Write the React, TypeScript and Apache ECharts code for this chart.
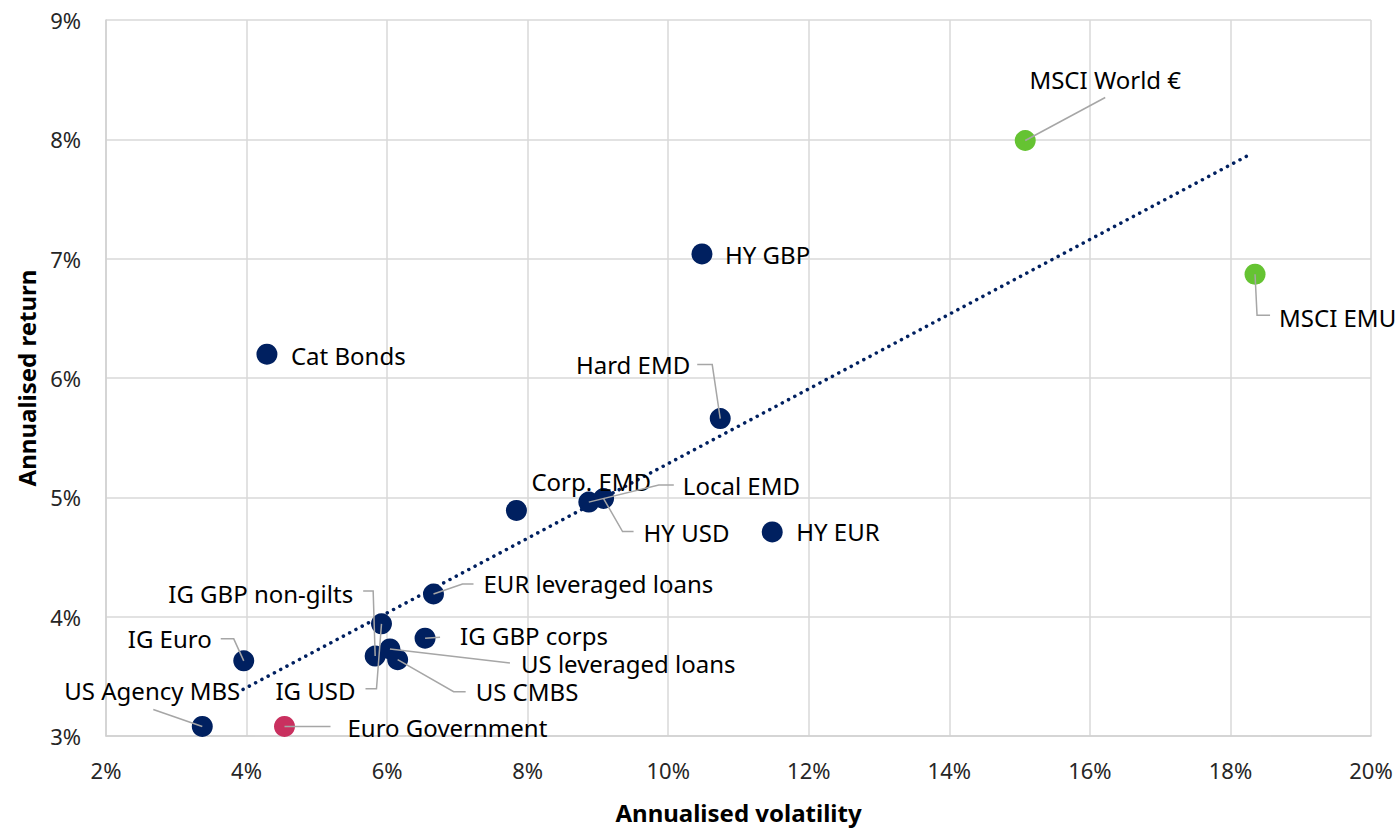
import React, { useEffect, useRef } from "react";
import * as echarts from "echarts";

// ---- Data ----
const assetNames = [
  "MSCI World €",
  "MSCI EMU",
  "HY GBP",
  "Cat Bonds",
  "Hard EMD",
  "Corp. EMD",
  "Local EMD",
  "HY USD",
  "HY EUR",
  "EUR leveraged loans",
  "IG GBP non-gilts",
  "IG USD",
  "IG GBP corps",
  "US leveraged loans",
  "US CMBS",
  "IG Euro",
  "US Agency MBS",
  "Euro Government",
];
const volatility = [15.08, 18.35, 10.48, 4.29, 10.74, 7.84, 8.87, 9.08, 11.48, 6.66, 5.83, 5.92, 6.54, 6.04, 6.15, 3.96, 3.37, 4.54];
const annualReturn = [7.99, 6.87, 7.04, 6.2, 5.66, 4.89, 4.96, 4.99, 4.71, 4.19, 3.67, 3.94, 3.82, 3.73, 3.64, 3.63, 3.08, 3.08];
const assetGroup = ["equity", "equity", "credit", "credit", "credit", "credit", "credit", "credit", "credit", "credit", "credit", "credit", "credit", "credit", "credit", "credit", "credit", "govt"];
const trendVol = [3.95, 18.3];
const trendRet = [3.39, 7.88];
const xTicks = { min: 2, max: 20, step: 2 };
const yTicks = { min: 3, max: 9, step: 1 };

// ---- Styles / layout ----
const groupColors: Record<string, string> = {
  equity: "#65C332",
  credit: "#002060",
  govt: "#C9305F",
};
// label placement relative to the point centre (pixels): [dx, dy, align]
const labelPlacement: Record<string, [number, number, string]> = {
  "MSCI World €": [80, -61, "center"],
  "MSCI EMU": [24, 43, "left"],
  "HY GBP": [23, 1, "left"],
  "Cat Bonds": [24, 1, "left"],
  "Hard EMD": [-30, -54, "right"],
  "Corp. EMD": [15, -29, "left"],
  "Local EMD": [94, -17, "left"],
  "HY USD": [40, 34, "left"],
  "HY EUR": [24, 0, "left"],
  "EUR leveraged loans": [50, -10, "left"],
  "IG GBP non-gilts": [-22, -63, "right"],
  "IG USD": [-26, 67, "right"],
  "IG GBP corps": [35, -3, "left"],
  "US leveraged loans": [131, 15, "left"],
  "US CMBS": [78, 32, "left"],
  "IG Euro": [-32, -22, "right"],
  "US Agency MBS": [-50, -36, "center"],
  "Euro Government": [63, 1, "left"],
};
// leader-line bends relative to the point centre (pixels)
const leaderBends: Record<string, number[][]> = {
  "MSCI World €": [[0, 0], [80, -43]],
  "MSCI EMU": [[0, 0], [2, 41], [15, 41]],
  "Hard EMD": [[0, 0], [-8, -54], [-23, -54]],
  "Local EMD": [[0, 0], [70, -17], [85, -17]],
  "HY USD": [[0, 0], [19, 33], [30, 33]],
  "EUR leveraged loans": [[0, 0], [29, -10], [40, -10]],
  "IG GBP non-gilts": [[0, 0], [-2, -65], [-12, -65]],
  "IG USD": [[0, 0], [-5, 65], [-16, 65]],
  "IG GBP corps": [[0, 0], [15, -1]],
  "US leveraged loans": [[0, 0], [120, 14]],
  "US CMBS": [[0, 0], [56, 32], [68, 32]],
  "IG Euro": [[0, 0], [-10, -22], [-23, -22]],
  "US Agency MBS": [[0, 0], [-49, -17]],
  "Euro Government": [[0, 0], [46, 0]],
};

const FONT = "'Noto Sans', 'Open Sans', sans-serif";

export default function App() {
  const ref = useRef<HTMLDivElement>(null);

  useEffect(() => {
    if (!ref.current) return;
    const chart = echarts.init(ref.current, undefined, { renderer: "svg" });

    const scatterData = assetNames.map((name, i) => ({
      name,
      value: [volatility[i], annualReturn[i]],
      itemStyle: { color: groupColors[assetGroup[i]], opacity: 1 },
    }));

    const leaderData = assetNames
      .map((name, i) => [volatility[i], annualReturn[i], i])
      .filter((d) => leaderBends[assetNames[d[2]]]);

    const option: any = {
      animation: false,
      textStyle: { fontFamily: FONT },
      grid: { left: 106, right: 26, top: 20, bottom: 88, containLabel: false },
      xAxis: {
        type: "value",
        min: xTicks.min,
        max: xTicks.max,
        interval: xTicks.step,
        name: "Annualised volatility",
        nameLocation: "middle",
        nameGap: 64,
        nameTextStyle: { fontFamily: FONT, fontSize: 24, fontWeight: "bold", color: "#000000" },
        axisLine: { show: true, lineStyle: { color: "#D0D0D0", width: 1.5 } },
        axisTick: { show: false },
        splitLine: { show: true, lineStyle: { color: "#D9D9D9", width: 1.5 } },
        axisLabel: { formatter: "{value}%", fontFamily: FONT, fontSize: 22, color: "#262626", margin: 23 },
      },
      yAxis: {
        type: "value",
        min: yTicks.min,
        max: yTicks.max,
        interval: yTicks.step,
        name: "Annualised return",
        nameLocation: "middle",
        nameGap: 68,
        nameTextStyle: { fontFamily: FONT, fontSize: 24, fontWeight: "bold", color: "#000000" },
        axisLine: { show: true, lineStyle: { color: "#D0D0D0", width: 1.5 } },
        axisTick: { show: false },
        splitLine: { show: true, lineStyle: { color: "#D9D9D9", width: 1.5 } },
        axisLabel: { formatter: "{value}%", fontFamily: FONT, fontSize: 22, color: "#262626", margin: 25 },
      },
      series: [
        {
          type: "line",
          data: trendVol.map((v, i) => [v, trendRet[i]]),
          symbol: "none",
          silent: true,
          lineStyle: { color: "#002060", width: 3.5, type: [0.1, 7], cap: "round" },
          z: 1,
        },
        {
          type: "scatter",
          symbol: "circle",
          symbolSize: 21,
          data: scatterData,
          z: 2,
          label: {
            show: true,
            position: "right",
            formatter: "{b}",
            fontFamily: FONT,
            fontSize: 24,
            lineHeight: 22,
            color: "#000000",
          },
          labelLine: { show: false },
          labelLayout: (params: any) => {
            const name = assetNames[params.dataIndex];
            const p = labelPlacement[name];
            const cx = params.rect.x + params.rect.width / 2;
            const cy = params.rect.y + params.rect.height / 2;
            return {
              x: cx + p[0],
              y: cy + p[1],
              align: p[2],
              verticalAlign: "middle",
            };
          },
        },
        {
          type: "custom",
          data: leaderData,
          z: 3,
          silent: true,
          renderItem: (params: any, api: any) => {
            const idx = api.value(2);
            const bends = leaderBends[assetNames[idx]];
            const c = api.coord([api.value(0), api.value(1)]);
            return {
              type: "polyline",
              shape: { points: bends.map((b) => [c[0] + b[0], c[1] + b[1]]) },
              style: { stroke: "#A6A6A6", lineWidth: 1.5, fill: null },
            };
          },
        },
      ],
    };

    chart.setOption(option);
    return () => chart.dispose();
  }, []);

  return (
    <div
      ref={ref}
      style={{ position: "fixed", left: 0, top: 0, width: 1397, height: 829, background: "#ffffff" }}
    />
  );
}
